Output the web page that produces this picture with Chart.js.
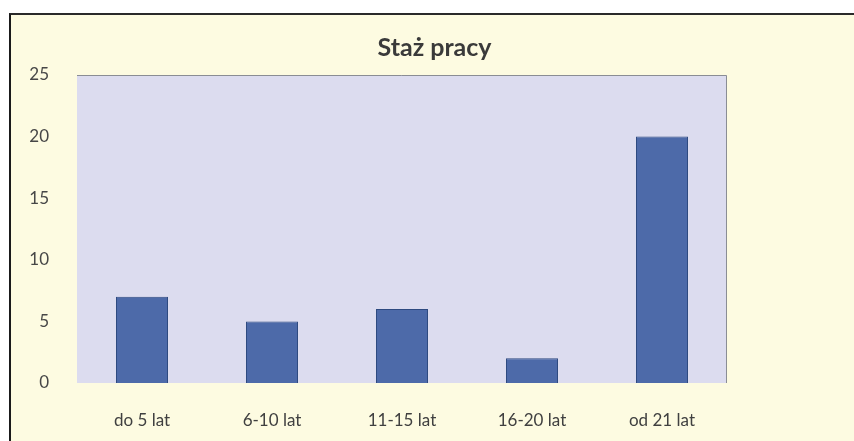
<!DOCTYPE html>
<html>
<head>
<meta charset="utf-8">
<script src="https://cdn.jsdelivr.net/npm/chart.js@4"></script>
<style>
    body { margin: 0; background: #ffffff; overflow: hidden; }
    #frame {
        position: absolute;
        left: 9px;
        top: 13px;
        width: 849px;
        height: 428px;
        border-left: 2px solid #1a1a1a;
        border-top: 2px solid #2a2a2a;
        background: #fdfbe1;
    }
    #staz_chart { display: block; }
</style>
</head>
<body>
<div id="frame"><canvas id="staz_chart" width="847" height="426"></canvas></div>
<script>
const categories = ['do 5 lat', '6-10 lat', '11-15 lat', '16-20 lat', 'od 21 lat'];
const counts = [7, 5, 6, 2, 20];
const yTicks = [0, 5, 10, 15, 20, 25];

const staz_chart = document.getElementById('staz_chart');

// lavender plot background with thin grey edge on top and right
const plotBackground = {
    id: 'plotBackground',
    beforeDraw(chart) {
        const { ctx, chartArea: a } = chart;
        ctx.save();
        ctx.fillStyle = '#dcdcef';
        ctx.fillRect(a.left, a.top, a.right - a.left, a.bottom - a.top);
        ctx.strokeStyle = '#8a8d94';
        ctx.lineWidth = 1;
        ctx.beginPath();
        ctx.moveTo(a.left, a.top + 0.5);
        ctx.lineTo(a.right - 0.5, a.top + 0.5);
        ctx.lineTo(a.right - 0.5, a.bottom);
        ctx.stroke();
        ctx.restore();
    }
};

const data = {
    labels: categories,
    datasets: [{
        label: 'Staż pracy',
        backgroundColor: '#4d6aa9',
        borderColor: '#2e4a80',
        borderWidth: 1,
        data: counts,
        barPercentage: 0.4,
        categoryPercentage: 1
    }]
};

const config = {
    type: 'bar',
    data: data,
    plugins: [plotBackground],
    options: {
        responsive: false,
        animation: false,
        layout: {
            padding: 0
        },
        plugins: {
            title: {
                display: true,
                text: 'Staż pracy',
                color: '#3a3a3a',
                font: { family: 'Lato', size: 25, weight: 'bold', lineHeight: 1.2 },
                padding: { top: 18, bottom: 12 }
            },
            legend: { display: false },
            tooltip: { enabled: false }
        },
        scales: {
            y: {
                min: 0,
                max: 25,
                afterFit: (scale) => { scale.width = 66; },
                afterBuildTicks: (scale) => {
                    scale.ticks = yTicks.map(v => ({ value: v }));
                },
                ticks: {
                    color: '#474747',
                    padding: 20,
                    font: { family: 'Lato', size: 17 }
                },
                grid: { display: false },
                border: { display: false }
            },
            // empty space on the right, the frame goes on past the plot
            spacer: {
                type: 'linear',
                position: 'right',
                afterFit: (scale) => { scale.width = 131; },
                ticks: { display: false },
                grid: { display: false },
                border: { display: false }
            },
            x: {
                afterFit: (scale) => { scale.height = 58; },
                ticks: {
                    color: '#404040',
                    padding: 19,
                    font: { family: 'Lato', size: 17 }
                },
                grid: { display: false },
                border: { display: false }
            }
        }
    }
};

const myChart = new Chart(staz_chart, config);
</script>
</body>
</html>
